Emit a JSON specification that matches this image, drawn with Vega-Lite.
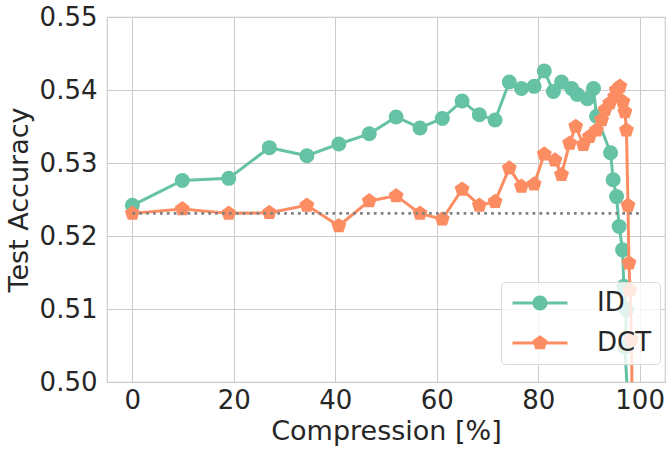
{
  "$schema": "https://vega.github.io/schema/vega-lite/v6.json",
  "width": 558,
  "height": 365,
  "autosize": {"type": "none"},
  "padding": {"left": 107, "top": 17, "right": 6, "bottom": 73},
  "config": {
    "font": "DejaVu Sans",
    "view": {"stroke": "#cccccc", "strokeWidth": 1.2},
    "axis": {
      "domain": false,
      "ticks": false,
      "tickSize": 0,
      "grid": true,
      "gridColor": "#cccccc",
      "gridWidth": 1,
      "labelFont": "DejaVu Sans",
      "labelFontSize": 26,
      "labelColor": "#262626",
      "titleFont": "DejaVu Sans",
      "titleFontSize": 27,
      "titleFontWeight": "normal",
      "titleColor": "#262626"
    },
    "legend": {
      "labelFont": "DejaVu Sans",
      "labelFontSize": 26,
      "labelColor": "#262626",
      "symbolOpacity": 1,
      "symbolStrokeWidth": 0,
      "symbolSize": 225,
      "symbolOffset": 18,
      "labelOffset": 44,
      "rowPadding": 14,
      "padding": 8,
      "fillColor": "rgba(255,255,255,0.8)",
      "strokeColor": "#dcdcdc",
      "cornerRadius": 4
    }
  },
  "datasets": {
    "runs": [
      {"series": "ID", "step": 1, "compression": 0, "accuracy": 0.5242},
      {"series": "ID", "step": 2, "compression": 9.85, "accuracy": 0.5276},
      {"series": "ID", "step": 3, "compression": 19, "accuracy": 0.5279},
      {"series": "ID", "step": 4, "compression": 27, "accuracy": 0.5321},
      {"series": "ID", "step": 5, "compression": 34.4, "accuracy": 0.531},
      {"series": "ID", "step": 6, "compression": 40.7, "accuracy": 0.5326},
      {"series": "ID", "step": 7, "compression": 46.7, "accuracy": 0.534},
      {"series": "ID", "step": 8, "compression": 52, "accuracy": 0.5363},
      {"series": "ID", "step": 9, "compression": 56.7, "accuracy": 0.5348},
      {"series": "ID", "step": 10, "compression": 61.1, "accuracy": 0.5361},
      {"series": "ID", "step": 11, "compression": 65, "accuracy": 0.5385},
      {"series": "ID", "step": 12, "compression": 68.4, "accuracy": 0.5366},
      {"series": "ID", "step": 13, "compression": 71.5, "accuracy": 0.5359},
      {"series": "ID", "step": 14, "compression": 74.3, "accuracy": 0.5411},
      {"series": "ID", "step": 15, "compression": 76.7, "accuracy": 0.5402},
      {"series": "ID", "step": 16, "compression": 79.2, "accuracy": 0.5405},
      {"series": "ID", "step": 17, "compression": 81.2, "accuracy": 0.5426},
      {"series": "ID", "step": 18, "compression": 83, "accuracy": 0.5398},
      {"series": "ID", "step": 19, "compression": 84.6, "accuracy": 0.5411},
      {"series": "ID", "step": 20, "compression": 86.6, "accuracy": 0.5402},
      {"series": "ID", "step": 21, "compression": 87.7, "accuracy": 0.5394},
      {"series": "ID", "step": 22, "compression": 89.7, "accuracy": 0.5388},
      {"series": "ID", "step": 23, "compression": 90.9, "accuracy": 0.5402},
      {"series": "ID", "step": 24, "compression": 91.5, "accuracy": 0.5364},
      {"series": "ID", "step": 25, "compression": 94.27, "accuracy": 0.5314},
      {"series": "ID", "step": 26, "compression": 94.78, "accuracy": 0.5277},
      {"series": "ID", "step": 27, "compression": 95.45, "accuracy": 0.5254},
      {"series": "ID", "step": 28, "compression": 95.96, "accuracy": 0.5213},
      {"series": "ID", "step": 29, "compression": 96.63, "accuracy": 0.5181},
      {"series": "ID", "step": 30, "compression": 96.89, "accuracy": 0.5131},
      {"series": "ID", "step": 31, "compression": 97.42, "accuracy": 0.5099},
      {"series": "ID", "step": 32, "compression": 97.08, "accuracy": 0.5048},
      {"series": "ID", "step": 33, "compression": 98.3, "accuracy": 0.49},
      {"series": "DCT", "step": 1, "compression": 0, "accuracy": 0.5231},
      {"series": "DCT", "step": 2, "compression": 9.85, "accuracy": 0.5237},
      {"series": "DCT", "step": 3, "compression": 19, "accuracy": 0.5231},
      {"series": "DCT", "step": 4, "compression": 27, "accuracy": 0.5232},
      {"series": "DCT", "step": 5, "compression": 34.4, "accuracy": 0.5242},
      {"series": "DCT", "step": 6, "compression": 40.7, "accuracy": 0.5214},
      {"series": "DCT", "step": 7, "compression": 46.7, "accuracy": 0.5248},
      {"series": "DCT", "step": 8, "compression": 52, "accuracy": 0.5255},
      {"series": "DCT", "step": 9, "compression": 56.7, "accuracy": 0.5231},
      {"series": "DCT", "step": 10, "compression": 61.1, "accuracy": 0.5223},
      {"series": "DCT", "step": 11, "compression": 65, "accuracy": 0.5264},
      {"series": "DCT", "step": 12, "compression": 68.4, "accuracy": 0.5242},
      {"series": "DCT", "step": 13, "compression": 71.5, "accuracy": 0.5247},
      {"series": "DCT", "step": 14, "compression": 74.3, "accuracy": 0.5293},
      {"series": "DCT", "step": 15, "compression": 76.7, "accuracy": 0.5268},
      {"series": "DCT", "step": 16, "compression": 79.2, "accuracy": 0.5271},
      {"series": "DCT", "step": 17, "compression": 81.2, "accuracy": 0.5312},
      {"series": "DCT", "step": 18, "compression": 83.3, "accuracy": 0.5304},
      {"series": "DCT", "step": 19, "compression": 84.6, "accuracy": 0.5284},
      {"series": "DCT", "step": 20, "compression": 86.2, "accuracy": 0.5327},
      {"series": "DCT", "step": 21, "compression": 87.4, "accuracy": 0.535},
      {"series": "DCT", "step": 22, "compression": 88.9, "accuracy": 0.5325},
      {"series": "DCT", "step": 23, "compression": 90.1, "accuracy": 0.5336},
      {"series": "DCT", "step": 24, "compression": 91.5, "accuracy": 0.5345},
      {"series": "DCT", "step": 25, "compression": 92.5, "accuracy": 0.5359},
      {"series": "DCT", "step": 26, "compression": 93.2, "accuracy": 0.5373},
      {"series": "DCT", "step": 27, "compression": 94.1, "accuracy": 0.5382},
      {"series": "DCT", "step": 28, "compression": 95.1, "accuracy": 0.5391},
      {"series": "DCT", "step": 29, "compression": 95.4, "accuracy": 0.54},
      {"series": "DCT", "step": 30, "compression": 96.1, "accuracy": 0.5405},
      {"series": "DCT", "step": 31, "compression": 96.7, "accuracy": 0.5384},
      {"series": "DCT", "step": 32, "compression": 97.1, "accuracy": 0.537},
      {"series": "DCT", "step": 33, "compression": 97.4, "accuracy": 0.5345},
      {"series": "DCT", "step": 34, "compression": 97.7, "accuracy": 0.5242},
      {"series": "DCT", "step": 35, "compression": 97.9, "accuracy": 0.5163},
      {"series": "DCT", "step": 36, "compression": 98.1, "accuracy": 0.5126},
      {"series": "DCT", "step": 37, "compression": 98.4, "accuracy": 0.5058},
      {"series": "DCT", "step": 38, "compression": 98.6, "accuracy": 0.49}
    ],
    "baseline": [
      {"start": 0, "end": 100, "accuracy": 0.5231}
    ]
  },
  "data": {"name": "runs"},
  "encoding": {
    "x": {
      "field": "compression",
      "type": "quantitative",
      "title": "Compression [%]",
      "scale": {"domain": [-5, 105], "nice": false, "zero": false},
      "axis": {"values": [0, 20, 40, 60, 80, 100], "labelPadding": 5, "titlePadding": 5}
    },
    "y": {
      "field": "accuracy",
      "type": "quantitative",
      "title": "Test Accuracy",
      "scale": {"domain": [0.5, 0.55], "nice": false, "zero": false},
      "axis": {"values": [0.5, 0.51, 0.52, 0.53, 0.54, 0.55], "format": ".2f", "labelPadding": 10, "titlePadding": 6}
    }
  },
  "layer": [
    {
      "mark": {"type": "point", "filled": true, "opacity": 0},
      "encoding": {
        "color": {
          "field": "series",
          "type": "nominal",
          "scale": {"domain": ["ID", "DCT"], "range": ["#66c2a5", "#fc8d62"]},
          "legend": {"title": null, "orient": "none", "legendX": 394, "legendY": 265}
        },
        "shape": {
          "field": "series",
          "type": "nominal",
          "scale": {
            "domain": ["ID", "DCT"],
            "range": [
              "M-3.67,-0.2H3.67V0.2H-3.67ZM-1,0A1,1 0 1,1 1,0A1,1 0 1,1 -1,0Z",
              "M-3.67,-0.2H3.67V0.2H-3.67ZM0,-1.05L0.999,-0.324L0.617,0.849L-0.617,0.849L-0.999,-0.324Z"
            ]
          },
          "legend": {"title": null, "orient": "none", "legendX": 394, "legendY": 265}
        }
      }
    },
    {
      "transform": [{"filter": "datum.series === 'ID'"}],
      "mark": {"type": "line", "strokeWidth": 3, "clip": true},
      "encoding": {
        "order": {"field": "step", "type": "quantitative"},
        "color": {"field": "series", "type": "nominal", "legend": null}
      }
    },
    {
      "transform": [{"filter": "datum.series === 'ID'"}],
      "mark": {"type": "point", "shape": "circle", "filled": true, "opacity": 1, "size": 225, "clip": true},
      "encoding": {"color": {"field": "series", "type": "nominal", "legend": null}}
    },
    {
      "transform": [{"filter": "datum.series === 'DCT'"}],
      "mark": {"type": "line", "strokeWidth": 3, "clip": true},
      "encoding": {
        "order": {"field": "step", "type": "quantitative"},
        "color": {"field": "series", "type": "nominal", "legend": null}
      }
    },
    {
      "transform": [{"filter": "datum.series === 'DCT'"}],
      "mark": {"type": "point", "shape": "M0,-1.05L0.999,-0.324L0.617,0.849L-0.617,0.849L-0.999,-0.324Z", "filled": true, "opacity": 1, "size": 225, "clip": true},
      "encoding": {"color": {"field": "series", "type": "nominal", "legend": null}}
    },
    {
      "data": {"name": "baseline"},
      "mark": {"type": "rule", "stroke": "#808080", "strokeWidth": 2.7, "strokeDash": [2.7, 4.2]},
      "encoding": {
        "x": {"field": "start", "type": "quantitative"},
        "x2": {"field": "end"},
        "y": {"field": "accuracy", "type": "quantitative"}
      }
    }
  ]
}
